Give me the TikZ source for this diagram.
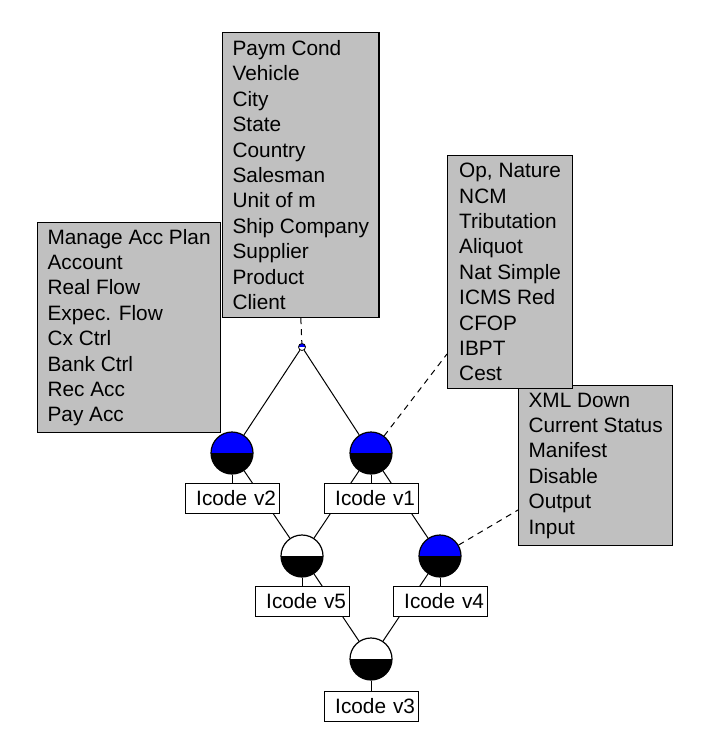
\documentclass[tikz,border=0pt]{standalone}
\usepackage{fontspec}
\setmainfont{Liberation Sans}
\definecolor{boxgray}{RGB}{192,192,192}

\begin{document}
\begin{tikzpicture}[x=1pt, y=-1pt,
  every node/.style={font=\fontsize{20.8}{25.4}\selectfont},
  listbox/.style={draw, fill=boxgray, line width=1.2pt, align=left, anchor=north west, inner xsep=10pt, inner ysep=0pt},
  ball/.style 2 args={circle, draw, line width=1.2pt, minimum size=42pt, inner sep=0pt, path picture={
      \fill[#1] (path picture bounding box.west) rectangle (path picture bounding box.north east);
      \fill[#2] (path picture bounding box.west) rectangle (path picture bounding box.south east);}},
  vbox/.style={draw, fill=white, line width=1pt, minimum width=94pt, minimum height=30pt, inner xsep=3pt, inner ysep=0pt, text width=88pt, align=right},
  link/.style={line width=1pt},
  hint/.style={line width=1pt, dash pattern=on 6pt off 5pt}]
\useasboundingbox (0,0) rectangle (719,743);

% lists
\node[listbox, minimum width=180pt, minimum height=210pt] (accbox) at (37,222) {Manage Acc Plan\\Account\\Real Flow\\Expec. Flow\\Cx Ctrl\\Bank Ctrl\\Rec Acc\\Pay Acc};
\node[listbox, minimum width=156pt, minimum height=285pt] (regbox) at (222,32) {Paym Cond\\Vehicle\\City\\State\\Country\\Salesman\\Unit of m\\Ship Company\\Supplier\\Product\\Client};
\node[listbox, minimum width=152pt, minimum height=160pt] (xmlbox) at (518,385) {XML Down\\Current Status\\Manifest\\Disable\\Output\\Input};
\node[listbox, minimum width=125pt, minimum height=233pt] (taxbox) at (447,155) {Op, Nature\\NCM\\Tributation\\Aliquot\\Nat Simple\\ICMS Red\\CFOP\\IBPT\\Cest};

% versions
\node[ball={blue}{white}, minimum size=7pt, line width=0.8pt] (root) at (302,347) {};
\node[ball={blue}{black}] (c2) at (232,453) {};
\node[ball={blue}{black}] (c1) at (371,453) {};
\node[ball={white}{black}] (c5) at (302,556) {};
\node[ball={blue}{black}] (c4) at (440,556) {};
\node[ball={white}{black}] (c3) at (371,659) {};

\draw[link] (root) -- (c2);
\draw[link] (root) -- (c1);
\draw[link] (c2) -- (c5);
\draw[link] (c1) -- (c5);
\draw[link] (c1) -- (c4);
\draw[link] (c5) -- (c3);
\draw[link] (c4) -- (c3);

\node[vbox] (l2) at (232,498) {Icode v2};
\node[vbox] (l1) at (371,498) {Icode v1};
\node[vbox] (l5) at (302,601) {Icode v5};
\node[vbox] (l4) at (440,601) {Icode v4};
\node[vbox] (l3) at (371,706) {Icode v3};

\draw[link] (c2) -- (l2);
\draw[link] (c1) -- (l1);
\draw[link] (c5) -- (l5);
\draw[link] (c4) -- (l4);
\draw[link] (c3) -- (l3);

% notes
\coordinate (taxin) at (447,354);
\coordinate (xmlin) at (518,510);
\draw[hint] (regbox.south) -- (root);
\draw[hint] (c1) -- (taxin);
\draw[hint] (c4) -- (xmlin);
\end{tikzpicture}
\end{document}
